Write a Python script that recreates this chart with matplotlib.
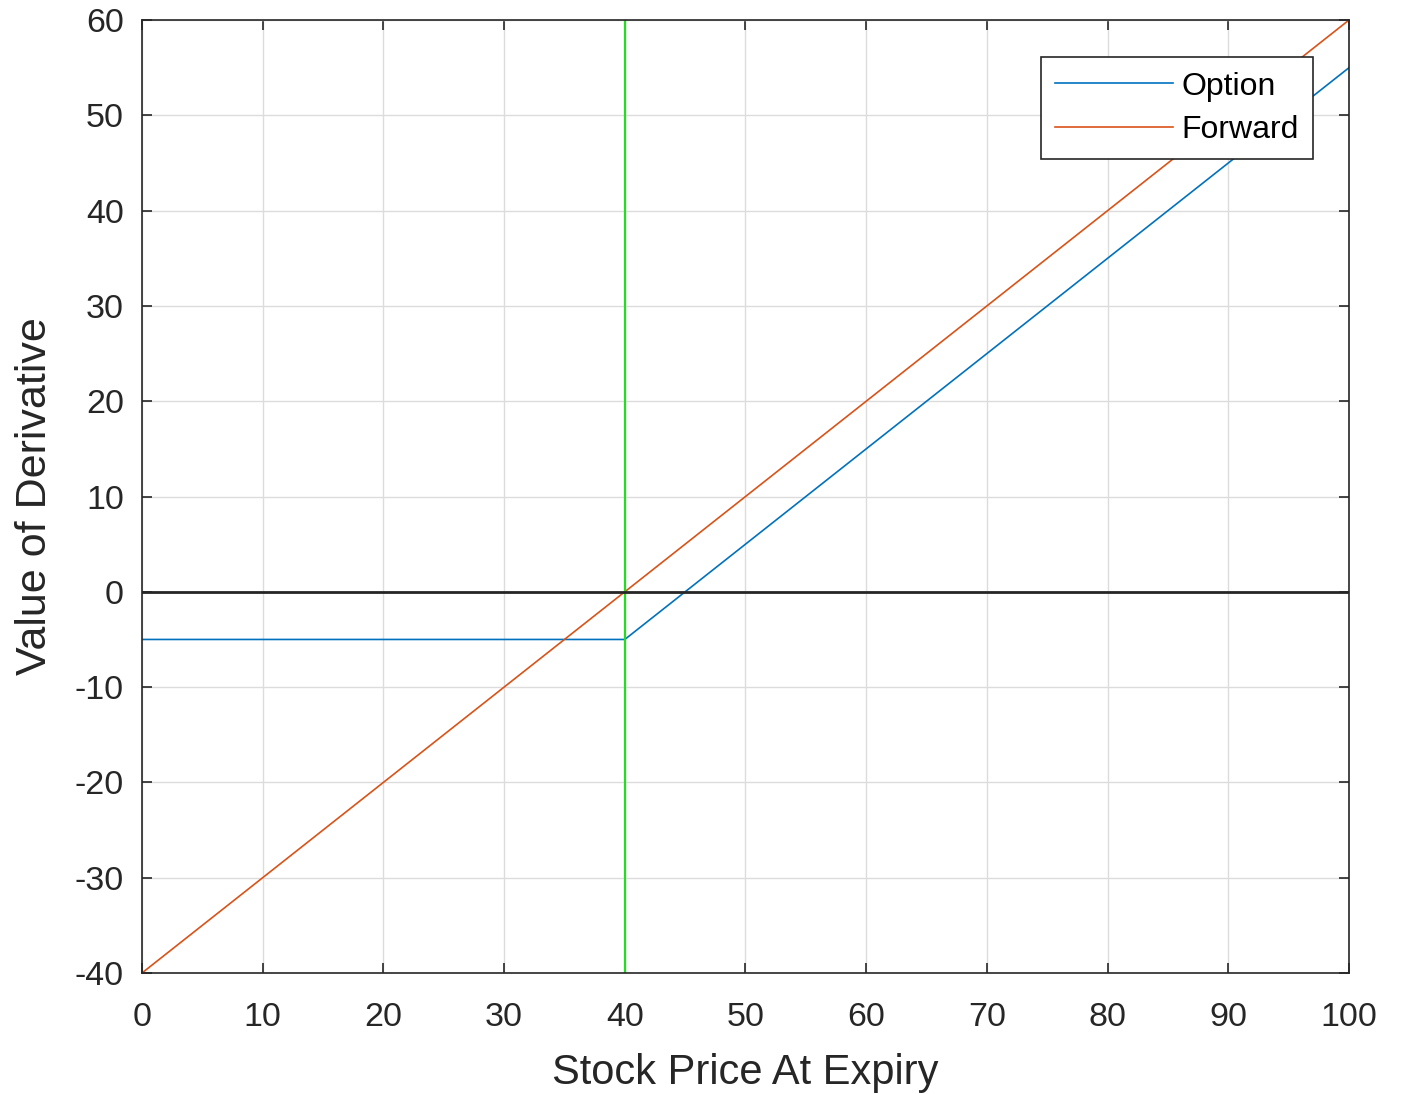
import matplotlib
matplotlib.use("Agg")
from matplotlib import pyplot as plt

plt.rcParams['font.family'] = ['Liberation Sans', 'DejaVu Sans']
plt.rcParams['axes.unicode_minus'] = False

strike = 40
stock = [0, 40, 100]           # stock price at expiry
option = [-5, -5, 55]          # call payoff minus premium
forward = [-40, 0, 60]         # long forward payoff

xticks = list(range(0, 101, 10))
yticks = list(range(-40, 61, 10))

fig = plt.figure(figsize=(14.07, 10.94), dpi=100)
ax = fig.add_axes([0.1009, 0.1106, 0.8579, 0.8711])

ax.plot(stock, option, color='#0072BD', lw=1.2, label='Option')
ax.plot(stock, forward, color='#D95319', lw=1.2, label='Forward')
ax.axvline(strike, color='#22dd22', lw=1.6)
ax.axhline(0, color='#262626', lw=2.0)

ax.set_xlim(0, 100)
ax.set_ylim(-40, 60)
ax.set_xticks(xticks)
ax.set_yticks(yticks)
ax.grid(True, color='#dcdcdc', lw=1.0)
ax.set_axisbelow(True)
ax.tick_params(direction='in', top=True, right=True, length=7, width=1.2,
               labelsize=24.5, colors='#262626')
ax.tick_params(axis='x', pad=21)
ax.tick_params(axis='y', pad=13)
for s in ax.spines.values():
    s.set_color('#262626')
    s.set_linewidth(1.2)

ax.set_xlabel('Stock Price At Expiry', fontsize=30, color='#262626', labelpad=14)
ax.set_ylabel('Value of Derivative', fontsize=31, color='#262626', labelpad=14)

leg = ax.legend(loc='upper right', bbox_to_anchor=(0.970, 0.961), borderaxespad=0,
                fontsize=23, fancybox=False, framealpha=1, edgecolor='#262626',
                handlelength=3.7, borderpad=0.45, labelspacing=0.42, handletextpad=0.25)
leg.get_frame().set_linewidth(1.2)

fig.savefig('out.png', dpi=100)
